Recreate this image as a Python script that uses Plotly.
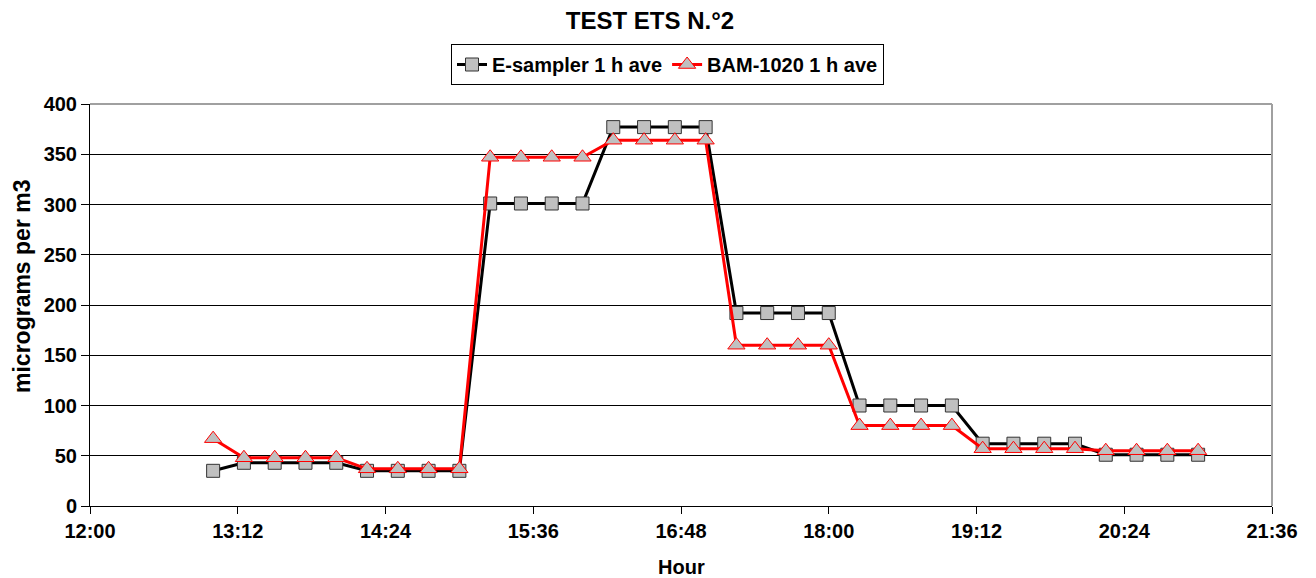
import plotly.graph_objects as go

times = [
    "2000-01-01 13:00", "2000-01-01 13:15", "2000-01-01 13:30", "2000-01-01 13:45",
    "2000-01-01 14:00", "2000-01-01 14:15", "2000-01-01 14:30", "2000-01-01 14:45",
    "2000-01-01 15:00", "2000-01-01 15:15", "2000-01-01 15:30", "2000-01-01 15:45",
    "2000-01-01 16:00", "2000-01-01 16:15", "2000-01-01 16:30", "2000-01-01 16:45",
    "2000-01-01 17:00", "2000-01-01 17:15", "2000-01-01 17:30", "2000-01-01 17:45",
    "2000-01-01 18:00", "2000-01-01 18:15", "2000-01-01 18:30", "2000-01-01 18:45",
    "2000-01-01 19:00", "2000-01-01 19:15", "2000-01-01 19:30", "2000-01-01 19:45",
    "2000-01-01 20:00", "2000-01-01 20:15", "2000-01-01 20:30", "2000-01-01 20:45",
    "2000-01-01 21:00",
]

e_sampler = [35, 43, 43, 43, 43, 35, 35, 35, 35,
             301, 301, 301, 301, 377, 377, 377, 377,
             192, 192, 192, 192, 100, 100, 100, 100,
             62, 62, 62, 62, 51, 51, 51, 51]

bam_1020 = [67, 48, 48, 48, 48, 37, 37, 37, 37,
            347, 347, 347, 347, 364, 364, 364, 364,
            160, 160, 160, 160, 80, 80, 80, 80,
            57, 57, 57, 57, 55, 55, 55, 55]

tick_vals = ["2000-01-01 12:00", "2000-01-01 13:12", "2000-01-01 14:24",
             "2000-01-01 15:36", "2000-01-01 16:48", "2000-01-01 18:00",
             "2000-01-01 19:12", "2000-01-01 20:24", "2000-01-01 21:36"]
tick_text = ["12:00", "13:12", "14:24", "15:36", "16:48", "18:00", "19:12", "20:24", "21:36"]

FONT = "Liberation Sans, Arial, sans-serif"
W, H = 1316, 578
ML, MR, MT, MB = 90, 44, 104, 72
PW, PH = W - ML - MR, H - MT - MB

fig = go.Figure()
fig.add_trace(go.Scatter(
    x=times, y=e_sampler, name="<b>E-sampler 1 h ave</b>", mode="lines+markers",
    line=dict(color="black", width=3),
    marker=dict(symbol="square", size=13, color="#C0C0C0",
                line=dict(color="#333333", width=1)),
))
fig.add_trace(go.Scatter(
    x=times, y=bam_1020, name="<b>BAM-1020 1 h ave</b>", mode="lines+markers",
    line=dict(color="#FF0000", width=3),
    marker=dict(symbol="triangle-up", size=15, color="#C0C0C0",
                line=dict(color="#FF0000", width=1)),
))

fig.update_layout(
    width=W, height=H,
    margin=dict(l=ML, r=MR, t=MT, b=MB, autoexpand=False),
    paper_bgcolor="white", plot_bgcolor="white",
    font=dict(family=FONT, color="black", size=20),
    title=dict(text="<b>TEST ETS N.°2</b>", x=650 / W, xref="container", xanchor="center",
               y=1 - 21 / H, yref="container", yanchor="middle",
               font=dict(size=24, family=FONT, color="black")),
    showlegend=True,
    legend=dict(orientation="h", xref="container", yref="container",
                x=667.5 / W, xanchor="center", y=1 - 44 / H, yanchor="top",
                bordercolor="black", borderwidth=1, bgcolor="white",
                font=dict(size=20, family=FONT, color="black"),
                itemwidth=30, tracegroupgap=0),
    xaxis=dict(
        type="date", automargin=False,
        range=["2000-01-01 12:00", "2000-01-01 21:36"],
        tickvals=tick_vals, ticktext=["<b>%s</b>" % t for t in tick_text],
        ticks="outside", ticklen=7, tickcolor="black", tickwidth=1,
        showline=True, linecolor="black", linewidth=1, mirror=False,
        showgrid=False, zeroline=False,
        tickfont=dict(size=20, family=FONT, color="black"),
    ),
    yaxis=dict(
        automargin=False,
        range=[0, 400], dtick=50, tick0=0,
        tickprefix="<b>", ticksuffix="</b>",
        ticks="outside", ticklen=8, tickcolor="black", tickwidth=1,
        showline=True, linecolor="black", linewidth=1,
        showgrid=True, gridcolor="black", gridwidth=1, zeroline=False,
        tickfont=dict(size=20, family=FONT, color="black"),
    ),
)

# axis titles placed as in the reference
fig.add_annotation(text="<b>Hour</b>", xref="paper", yref="paper",
                   x=0.5, y=-(567 - (MT + PH)) / PH, xanchor="center", yanchor="middle",
                   showarrow=False, font=dict(size=20, family=FONT, color="black"))
fig.add_annotation(text="<b>micrograms per m3</b>", xref="paper", yref="paper",
                   x=(22 - ML) / PW, y=(MT + PH - 287) / PH,
                   xanchor="center", yanchor="middle", textangle=-90,
                   showarrow=False, font=dict(size=23, family=FONT, color="black"))

# gray frame on top and right of plot area
fig.add_shape(type="line", xref="paper", yref="paper", x0=0, x1=1, y0=1, y1=1,
              line=dict(color="#A0A0A0", width=2), layer="above")
fig.add_shape(type="line", xref="paper", yref="paper", x0=1, x1=1, y0=0, y1=1,
              line=dict(color="#A0A0A0", width=2), layer="above")

fig.write_html("out.html",
               config={"displayModeBar": False},
               post_script="document.body.style.margin='0';document.body.style.overflow='hidden';")
